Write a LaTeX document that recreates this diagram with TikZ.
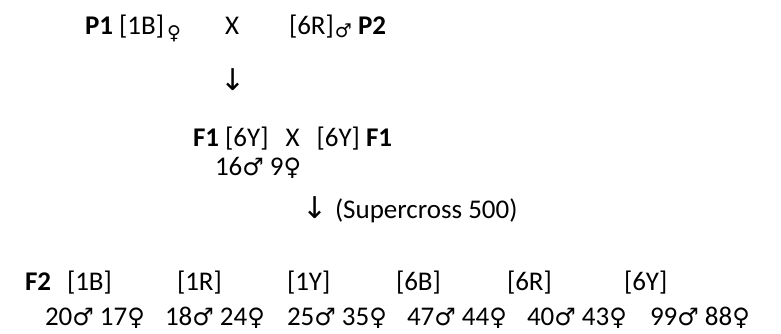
\documentclass[tikz,border=0pt]{standalone}
\usepackage{fontspec}
\setmainfont{Carlito}
\newfontfamily\symf{DejaVu Sans}
\newcommand{\fem}{{\symf\fontsize{24}{28}\selectfont ♀}}
\newcommand{\mal}{{\symf\fontsize{24}{28}\selectfont ♂}}
\newcommand{\subfem}{\hspace{3pt}\raisebox{-5pt}{\symf\fontsize{19}{19}\selectfont ♀}}
\newcommand{\submal}{\hspace{1pt}\raisebox{-3pt}{\symf\fontsize{19}{19}\selectfont ♂}}
\begin{document}
\begin{tikzpicture}[x=1pt,y=-1pt,
  txt/.style={inner sep=0pt, outer sep=0pt, anchor=base west, font=\fontsize{27}{32}\selectfont},
  arr/.style={inner sep=0pt, outer sep=0pt, font=\symf\fontsize{30}{34}\selectfont}]
\fill[white] (0,0) rectangle (781,333);
\useasboundingbox (0,0) rectangle (781,333);
% row 1
\node[txt] (p1) at (85,34) {\textbf{P1} [1B]\subfem};
\node[txt] (x1) at (225,34) {X};
\node[txt] (p2) at (289,34) {[6R]\submal\ \textbf{P2}};
% arrow 1
\node[arr] (a1) at (233,80) {↓};
% F1 row
\node[txt] (f1) at (193,146) {\textbf{F1} [6Y]\hspace{17pt}X\hspace{17pt}[6Y] \textbf{F1}};
\node[txt] (f1n) at (215,175) {16\mal\ 9\fem};
% arrow 2
\node[txt] (sc) at (335,218) {(Supercross 500)};
\node[arr, anchor=base east] (a2) at ([xshift=-7pt]sc.base west) {↓};
% F2 row
\node[txt] (f2) at (25,290) {\textbf{F2}};
\node[txt] (g1) at (67,290) {[1B]};
\node[txt] (g2) at (177,290) {[1R]};
\node[txt] (g3) at (287,290) {[1Y]};
\node[txt] (g4) at (396,290) {[6B]};
\node[txt] (g5) at (507,290) {[6R]};
\node[txt] (g6) at (624,290) {[6Y]};
% counts
\node[txt] (n1) at (45,325) {20\mal\ 17\fem};
\node[txt] (n2) at (165,325) {18\mal\ 24\fem};
\node[txt] (n3) at (287,325) {25\mal\ 35\fem};
\node[txt] (n4) at (407,325) {47\mal\ 44\fem};
\node[txt] (n5) at (527,325) {40\mal\ 43\fem};
\node[txt] (n6) at (650,325) {99\mal\ 88\fem};
\end{tikzpicture}
\end{document}
